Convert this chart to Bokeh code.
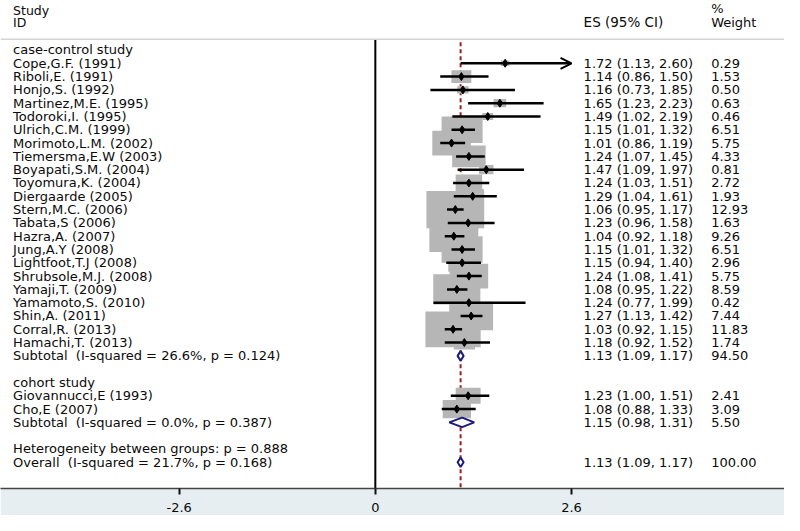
from bokeh.plotting import figure
from bokeh.models import Range1d, FixedTicker, Span, Arrow, OpenHead
from bokeh.core.properties import value
from bokeh.embed import file_html
from bokeh.resources import INLINE

# ---------------- data ----------------
cc_names = ["Cope,G.F. (1991)", "Riboli,E. (1991)", "Honjo,S. (1992)", "Martinez,M.E. (1995)",
            "Todoroki,I. (1995)", "Ulrich,C.M. (1999)", "Morimoto,L.M. (2002)", "Tiemersma,E.W (2003)",
            "Boyapati,S.M. (2004)", "Toyomura,K. (2004)", "Diergaarde (2005)", "Stern,M.C. (2006)",
            "Tabata,S (2006)", "Hazra,A. (2007)", "Jung,A.Y (2008)", "Lightfoot,T.J (2008)",
            "Shrubsole,M.J. (2008)", "Yamaji,T. (2009)", "Yamamoto,S. (2010)", "Shin,A. (2011)",
            "Corral,R. (2013)", "Hamachi,T. (2013)"]
cc_es = [1.72, 1.14, 1.16, 1.65, 1.49, 1.15, 1.01, 1.24, 1.47, 1.24, 1.29, 1.06,
         1.23, 1.04, 1.15, 1.15, 1.24, 1.08, 1.24, 1.27, 1.03, 1.18]
cc_lo = [1.13, 0.86, 0.73, 1.23, 1.02, 1.01, 0.86, 1.07, 1.09, 1.03, 1.04, 0.95,
         0.96, 0.92, 1.01, 0.94, 1.08, 0.95, 0.77, 1.13, 0.92, 0.92]
cc_hi = [2.60, 1.50, 1.85, 2.23, 2.19, 1.32, 1.19, 1.45, 1.97, 1.51, 1.61, 1.17,
         1.58, 1.18, 1.32, 1.40, 1.41, 1.22, 1.99, 1.42, 1.15, 1.52]
cc_w = [0.29, 1.53, 0.50, 0.63, 0.46, 6.51, 5.75, 4.33, 0.81, 2.72, 1.93, 12.93,
        1.63, 9.26, 6.51, 2.96, 5.75, 8.59, 0.42, 7.44, 11.83, 1.74]

co_names = ["Giovannucci,E (1993)", "Cho,E (2007)"]
co_es = [1.23, 1.08]
co_lo = [1.00, 0.88]
co_hi = [1.51, 1.33]
co_w = [2.41, 3.09]

group_titles = ["case-control study", "cohort study"]
subtotal_labels = ["Subtotal  (I-squared = 26.6%, p = 0.124)",
                   "Subtotal  (I-squared = 0.0%, p = 0.387)"]
sub_es = [1.13, 1.15]
sub_lo = [1.09, 0.98]
sub_hi = [1.17, 1.31]
sub_w = [94.50, 5.50]

het_label = "Heterogeneity between groups: p = 0.888"
overall_label = "Overall  (I-squared = 21.7%, p = 0.168)"
overall_es, overall_lo, overall_hi, overall_w = 1.13, 1.09, 1.17, 100.00

tick_values = [-2.6, 0, 2.6]
tick_labels = ["-2.6", "0", "2.6"]

# ---------------- layout constants ----------------
FONT = "DejaVu Sans"
W, H = 784, 515
X0, X1 = -4.967, 5.422          # data range of the frame (ES units)
Y_TOP, Y_BOT = -3.72, 32.97     # row units (flipped)
LABEL_X, ES_X, W_X = -4.80, 2.76, 4.45
BOX_H, BOX_W = 0.78, 0.213      # per sqrt(weight)
DIAM_H = 0.36
TEXT_C = "#0a0a0a"

p = figure(width=W, height=H, output_backend="svg", toolbar_location=None,
           x_range=Range1d(X0, X1), y_range=Range1d(Y_BOT, Y_TOP),
           y_axis_location=None, min_border_left=0, min_border_right=0,
           min_border_top=0, min_border_bottom=27)
p.outline_line_color = None
p.xgrid.visible = False
p.ygrid.visible = False
p.background_fill_color = "white"
p.border_fill_color = "#e6eef2"

ax = p.xaxis[0]
ax.ticker = FixedTicker(ticks=tick_values)
ax.major_label_overrides = {t: l for t, l in zip(tick_values, tick_labels)}
ax.minor_tick_line_color = None
ax.major_tick_in = 0
ax.major_tick_out = 6
ax.major_tick_line_width = 2
ax.major_tick_line_color = "#111111"
ax.axis_line_color = "#444444"
ax.axis_line_width = 1.5
ax.major_label_standoff = 8
ax.axis_label_standoff = 0
ax.major_label_text_font = FONT
ax.major_label_text_font_size = "13px"
ax.major_label_text_color = TEXT_C

# ---------------- assemble rows ----------------
study_y, study_es, study_lo, study_hi, study_w = [], [], [], [], []
left_txt, left_y = [], []
es_txt, w_txt, right_y = [], [], []
diam_es, diam_lo, diam_hi, diam_y = [], [], [], []

row = 0
groups = [(cc_names, cc_es, cc_lo, cc_hi, cc_w), (co_names, co_es, co_lo, co_hi, co_w)]
for g, (names, es, lo, hi, w) in enumerate(groups):
    left_txt.append(group_titles[g]); left_y.append(row)
    row += 1
    for n, e, l, h, wt in zip(names, es, lo, hi, w):
        left_txt.append(n); left_y.append(row)
        study_y.append(row); study_es.append(e); study_lo.append(l); study_hi.append(h); study_w.append(wt)
        es_txt.append(f"{e:.2f} ({l:.2f}, {h:.2f})"); w_txt.append(f"{wt:.2f}"); right_y.append(row)
        row += 1
    left_txt.append(subtotal_labels[g]); left_y.append(row)
    es_txt.append(f"{sub_es[g]:.2f} ({sub_lo[g]:.2f}, {sub_hi[g]:.2f})"); w_txt.append(f"{sub_w[g]:.2f}")
    right_y.append(row)
    diam_es.append(sub_es[g]); diam_lo.append(sub_lo[g]); diam_hi.append(sub_hi[g]); diam_y.append(row)
    row += 2
left_txt.append(het_label); left_y.append(row)
row += 1
left_txt.append(overall_label); left_y.append(row)
es_txt.append(f"{overall_es:.2f} ({overall_lo:.2f}, {overall_hi:.2f})"); w_txt.append(f"{overall_w:.2f}")
right_y.append(row)
diam_es.append(overall_es); diam_lo.append(overall_lo); diam_hi.append(overall_hi); diam_y.append(row)

# keep double spaces visible in SVG text
left_txt = [t.replace("  ", "\u00a0 ") for t in left_txt]

# ---------------- reference lines ----------------
p.add_layout(Span(location=-0.8, dimension="width", line_color="#d4d4d4", line_width=1.5))
p.segment(x0=[overall_es], y0=[-0.58], x1=[overall_es], y1=[Y_BOT],
          line_color="#9b1f1f", line_width=2, line_dash="4 3")
p.segment(x0=[0], y0=[-0.8], x1=[0], y1=[Y_BOT], line_color="#000000", line_width=2)

# ---------------- boxes ----------------
p.rect(x=study_es, y=study_y,
       width=[BOX_W * wt ** 0.5 for wt in study_w],
       height=[BOX_H * wt ** 0.5 for wt in study_w],
       fill_color="#b6b6b6", line_color=None)

# ---------------- CIs ----------------
xmax = max(tick_values)
seg_idx = [i for i in range(len(study_y)) if study_hi[i] < xmax]
arr_idx = [i for i in range(len(study_y)) if study_hi[i] >= xmax]
p.segment(x0=[study_lo[i] for i in seg_idx], y0=[study_y[i] for i in seg_idx],
          x1=[study_hi[i] for i in seg_idx], y1=[study_y[i] for i in seg_idx],
          line_color="black", line_width=2.5)
for i in arr_idx:
    p.add_layout(Arrow(end=OpenHead(size=11, line_width=2, line_color="black"),
                       x_start=study_lo[i], y_start=study_y[i], x_end=study_hi[i], y_end=study_y[i],
                       line_color="black", line_width=2.5))
p.scatter(x=study_es, y=study_y, marker="diamond", size=8, fill_color="black", line_color="black")

# ---------------- diamonds ----------------
p.patches(xs=[[l, e, h, e] for l, e, h in zip(diam_lo, diam_es, diam_hi)],
          ys=[[y, y - DIAM_H, y, y + DIAM_H] for y in diam_y],
          fill_color="white", line_color="#1c1c78", line_width=2)

# ---------------- texts ----------------
def txt(x, y, t, size="13px", align="left"):
    p.text(x=x, y=y, text=t, text_font=value(FONT), text_font_size=size,
           text_baseline="middle", text_align=align, text_color=TEXT_C)

txt([LABEL_X, LABEL_X], [-2.99, -2.08], ["Study", "ID"], size="12.5px")
txt([ES_X], [-2.08], ["ES (95% CI)"], size="13.5px")
txt([W_X, W_X], [-3.14, -2.08], ["%", "Weight"], size="13px")
txt([LABEL_X] * len(left_y), left_y, left_txt, size="13px")
txt([ES_X] * len(right_y), right_y, es_txt, size="13px")
txt([W_X] * len(right_y), right_y, w_txt, size="13px")

open("out.html", "w").write(file_html(p, INLINE))
